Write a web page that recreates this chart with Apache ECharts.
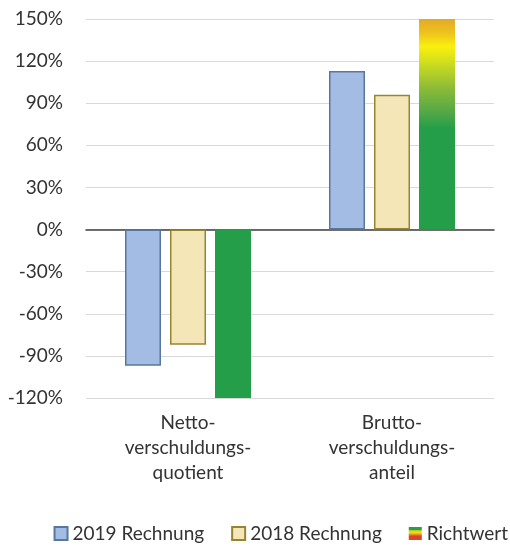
<!DOCTYPE html>
<html>
<head>
<meta charset="utf-8">
<style>
  html, body { margin: 0; padding: 0; background: #fff; }
  #chart { width: 510px; height: 548px; }
</style>
<script src="https://cdn.jsdelivr.net/npm/echarts@6/dist/echarts.min.js"></script>
</head>
<body>
<div id="chart"></div>
<script>
// Kennzahlen zur Verschuldung (Werte in %)
const categories = ['Netto-\nverschuldungs-\nquotient', 'Brutto-\nverschuldungs-\nanteil'];
const seriesNames = ['2019 Rechnung', '2018 Rechnung', 'Richtwert'];
const rechnung2019 = [-97, 113];
const rechnung2018 = [-82, 96];
const richtwert = [-120, 150];
const yTicks = { min: -120, max: 150, interval: 30 };

const FONT = 'Lato, "Open Sans", sans-serif';
const TEXT = '#333333';

// Farbverlauf für den Richtwert (orange oben über gelb bis grün unten)
const richtwertGradient = new echarts.graphic.LinearGradient(0, 0, 0, 1, [
  { offset: 0.00, color: '#E3A927' },
  { offset: 0.07, color: '#EEC51C' },
  { offset: 0.13, color: '#FAF00E' },
  { offset: 0.22, color: '#C8DA22' },
  { offset: 0.33, color: '#8CBB38' },
  { offset: 0.45, color: '#4FA747' },
  { offset: 0.52, color: '#249E49' },
  { offset: 1.00, color: '#249E49' }
]);
const legendGradient = new echarts.graphic.LinearGradient(0, 0, 0, 1, [
  { offset: 0.00, color: '#2E9E45' },
  { offset: 0.25, color: '#2E9E45' },
  { offset: 0.25, color: '#9CC93A' },
  { offset: 0.40, color: '#F2E614' },
  { offset: 0.55, color: '#EFA020' },
  { offset: 0.70, color: '#D9432B' },
  { offset: 1.00, color: '#D9432B' }
]);

const chart = echarts.init(document.getElementById('chart'), null, { renderer: 'canvas' });

chart.setOption({
  animation: false,
  textStyle: { fontFamily: FONT, color: TEXT },
  grid: { left: 86, right: 16, top: 19, bottom: 150 },
  legend: {
    bottom: 0,
    right: 2,
    padding: [5, 0, 5, 5],
    itemWidth: 13,
    itemHeight: 13,
    itemGap: 27,
    textStyle: { fontFamily: FONT, fontSize: 19, color: TEXT },
    data: [
      { name: seriesNames[0], icon: 'rect' },
      { name: seriesNames[1], icon: 'rect' },
      { name: seriesNames[2], icon: 'rect', itemStyle: { color: legendGradient, borderWidth: 0 } }
    ]
  },
  xAxis: {
    type: 'category',
    data: categories,
    axisLine: { onZero: true, lineStyle: { color: '#404040', width: 1.5 } },
    axisTick: { show: false },
    axisLabel: {
      show: true,
      position: 'bottom',
      fontFamily: FONT,
      fontSize: 19,
      lineHeight: 25,
      color: TEXT,
      margin: 12,
      interval: 0
    }
  },
  yAxis: {
    type: 'value',
    min: yTicks.min,
    max: yTicks.max,
    interval: yTicks.interval,
    axisLine: { show: false },
    axisTick: { show: false },
    splitLine: { lineStyle: { color: '#D9D9D9', width: 1 } },
    axisLabel: {
      formatter: v => v + '%',
      fontFamily: FONT,
      fontSize: 19,
      color: TEXT,
      margin: 23
    }
  },
  series: [
    {
      name: seriesNames[0],
      type: 'bar',
      data: rechnung2019,
      barWidth: 36,
      barGap: '25%',
      itemStyle: { color: '#A3BCE3', borderColor: '#58779F', borderWidth: 1.5 }
    },
    {
      name: seriesNames[1],
      type: 'bar',
      data: rechnung2018,
      barWidth: 36,
      barGap: '25%',
      itemStyle: { color: '#F5E6B8', borderColor: '#968530', borderWidth: 1.5 }
    },
    {
      name: seriesNames[2],
      type: 'bar',
      barWidth: 36,
      barGap: '25%',
      itemStyle: { color: '#249E49' },
      data: richtwert.map(v => v > 0
        ? { value: v, itemStyle: { color: richtwertGradient } }
        : { value: v })
    }
  ]
});
</script>
</body>
</html>
